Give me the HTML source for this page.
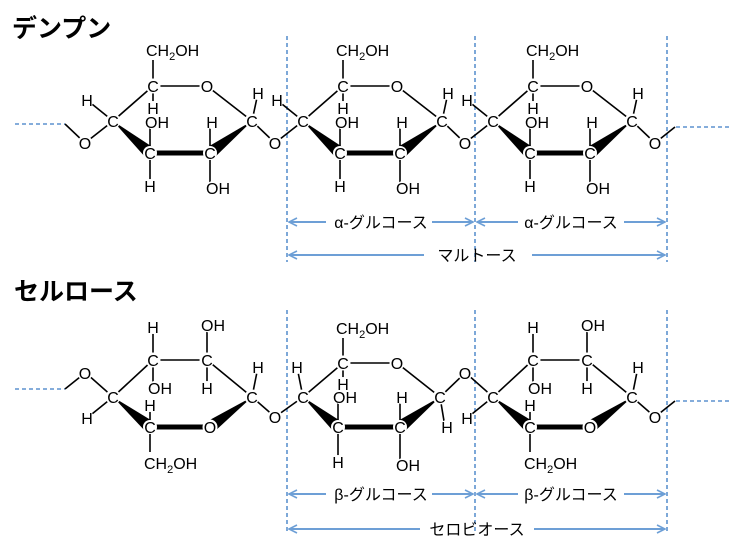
<!DOCTYPE html>
<html><head><meta charset="utf-8"><style>
html,body{margin:0;padding:0;background:#fff;}
svg{display:block;}
.t{font-family:"Liberation Sans",Arial,sans-serif;font-size:16px;fill:#000;text-anchor:middle;}
.s{text-anchor:start;}
.b{stroke:#000;stroke-width:1.6;fill:none;}
.bb{stroke:#000;stroke-width:5;}
.d{stroke:#5d92cf;stroke-width:1.6;stroke-dasharray:4,3;fill:none;}
.a{stroke:#6d9fd6;stroke-width:2;fill:none;}
.w circle,.w ellipse{fill:#fff;}
.jp{font-family:"Liberation Sans","Noto Sans CJK JP",sans-serif;fill:#000;}
</style></head><body>
<svg width="732" height="558" viewBox="0 0 732 558" xmlns="http://www.w3.org/2000/svg">
<defs>
<marker id="ar" markerWidth="10" markerHeight="10" refX="9" refY="5" orient="auto-start-reverse" markerUnits="userSpaceOnUse">
<path d="M1,1 L9,5 L1,9" fill="none" stroke="#6d9fd6" stroke-width="1.6"/>
</marker>
</defs>

<text x="12" y="37" class="jp" font-size="25" font-weight="bold">デンプン</text>
<text x="14" y="300" class="jp" font-size="25" font-weight="bold">セルロース</text>

<line class="d" x1="287" y1="36" x2="287" y2="262"/>
<line class="d" x1="475" y1="36" x2="475" y2="262"/>
<line class="d" x1="667" y1="36" x2="667" y2="262"/>
<line class="d" x1="287" y1="310" x2="287" y2="534"/>
<line class="d" x1="475" y1="310" x2="475" y2="534"/>
<line class="d" x1="667" y1="310" x2="667" y2="534"/>

<line class="d" x1="15" y1="124" x2="65" y2="124"/>
<line class="b" x1="65" y1="124" x2="85" y2="143"/>
<line class="b" x1="655" y1="143" x2="675" y2="127"/>
<line class="d" x1="676" y1="127" x2="732" y2="127"/>
<line class="d" x1="15" y1="389" x2="65" y2="389"/>
<line class="b" x1="65" y1="389" x2="85" y2="373"/>
<line class="b" x1="655" y1="417" x2="675" y2="401"/>
<line class="d" x1="676" y1="401" x2="732" y2="401"/>

<!-- starch units -->
<g>
<line class="b" x1="153" y1="86" x2="207" y2="86"/>
<line class="b" x1="207" y1="86" x2="252" y2="121"/>
<line class="b" x1="113" y1="121" x2="153" y2="86"/>
<line class="b" x1="153" y1="86" x2="153" y2="60"/>
<line class="b" x1="153" y1="86" x2="153" y2="107"/>
<line class="b" x1="113" y1="121" x2="87" y2="100"/>
<line class="b" x1="113" y1="121" x2="85" y2="143"/>
<line class="b" x1="150" y1="153" x2="150" y2="122"/>
<line class="b" x1="150" y1="153" x2="150" y2="186"/>
<line class="b" x1="210" y1="153" x2="210" y2="122"/>
<line class="b" x1="210" y1="153" x2="210" y2="188"/>
<line class="b" x1="252" y1="121" x2="258" y2="93"/>
<line class="b" x1="252" y1="121" x2="275" y2="143"/>
<line class="bb" x1="150" y1="153" x2="210" y2="153"/>
<polygon points="113,121 146,158 154,148"/>
<polygon points="252,121 206,148 214,158"/>
</g>
<g transform="translate(190,0)">
<line class="b" x1="153" y1="86" x2="207" y2="86"/>
<line class="b" x1="207" y1="86" x2="252" y2="121"/>
<line class="b" x1="113" y1="121" x2="153" y2="86"/>
<line class="b" x1="153" y1="86" x2="153" y2="60"/>
<line class="b" x1="153" y1="86" x2="153" y2="107"/>
<line class="b" x1="113" y1="121" x2="87" y2="100"/>
<line class="b" x1="113" y1="121" x2="85" y2="143"/>
<line class="b" x1="150" y1="153" x2="150" y2="122"/>
<line class="b" x1="150" y1="153" x2="150" y2="186"/>
<line class="b" x1="210" y1="153" x2="210" y2="122"/>
<line class="b" x1="210" y1="153" x2="210" y2="188"/>
<line class="b" x1="252" y1="121" x2="258" y2="93"/>
<line class="b" x1="252" y1="121" x2="275" y2="143"/>
<line class="bb" x1="150" y1="153" x2="210" y2="153"/>
<polygon points="113,121 146,158 154,148"/>
<polygon points="252,121 206,148 214,158"/>
</g>
<g transform="translate(380,0)">
<line class="b" x1="153" y1="86" x2="207" y2="86"/>
<line class="b" x1="207" y1="86" x2="252" y2="121"/>
<line class="b" x1="113" y1="121" x2="153" y2="86"/>
<line class="b" x1="153" y1="86" x2="153" y2="60"/>
<line class="b" x1="153" y1="86" x2="153" y2="107"/>
<line class="b" x1="113" y1="121" x2="87" y2="100"/>
<line class="b" x1="113" y1="121" x2="85" y2="143"/>
<line class="b" x1="150" y1="153" x2="150" y2="122"/>
<line class="b" x1="150" y1="153" x2="150" y2="186"/>
<line class="b" x1="210" y1="153" x2="210" y2="122"/>
<line class="b" x1="210" y1="153" x2="210" y2="188"/>
<line class="b" x1="252" y1="121" x2="258" y2="93"/>
<line class="b" x1="252" y1="121" x2="275" y2="143"/>
<line class="bb" x1="150" y1="153" x2="210" y2="153"/>
<polygon points="113,121 146,158 154,148"/>
<polygon points="252,121 206,148 214,158"/>
</g>
<!-- starch white backs -->
<g class="w">
<circle cx="85" cy="143" r="7.5"/>
<g id="swb">
<circle cx="153" cy="86" r="7.5"/><circle cx="207" cy="86" r="7.5"/><circle cx="252" cy="121" r="7.5"/>
<circle cx="210" cy="153" r="7"/><circle cx="150" cy="153" r="7"/><circle cx="113" cy="121" r="7.5"/>
<circle cx="275" cy="143" r="7.5"/>
<circle cx="153" cy="108" r="7"/><circle cx="87" cy="100" r="7"/><circle cx="150" cy="186" r="7"/>
<circle cx="212" cy="122" r="7"/><circle cx="258" cy="93" r="7"/>
<ellipse cx="157" cy="122" rx="13" ry="8"/><ellipse cx="218" cy="188" rx="13" ry="8"/>
</g>
<g transform="translate(190,0)">
<circle cx="153" cy="86" r="7.5"/><circle cx="207" cy="86" r="7.5"/><circle cx="252" cy="121" r="7.5"/>
<circle cx="210" cy="153" r="7"/><circle cx="150" cy="153" r="7"/><circle cx="113" cy="121" r="7.5"/>
<circle cx="275" cy="143" r="7.5"/>
<circle cx="153" cy="108" r="7"/><circle cx="87" cy="100" r="7"/><circle cx="150" cy="186" r="7"/>
<circle cx="212" cy="122" r="7"/><circle cx="258" cy="93" r="7"/>
<ellipse cx="157" cy="122" rx="13" ry="8"/><ellipse cx="218" cy="188" rx="13" ry="8"/>
</g>
<g transform="translate(380,0)">
<circle cx="153" cy="86" r="7.5"/><circle cx="207" cy="86" r="7.5"/><circle cx="252" cy="121" r="7.5"/>
<circle cx="210" cy="153" r="7"/><circle cx="150" cy="153" r="7"/><circle cx="113" cy="121" r="7.5"/>
<circle cx="275" cy="143" r="7.5"/>
<circle cx="153" cy="108" r="7"/><circle cx="87" cy="100" r="7"/><circle cx="150" cy="186" r="7"/>
<circle cx="212" cy="122" r="7"/><circle cx="258" cy="93" r="7"/>
<ellipse cx="157" cy="122" rx="13" ry="8"/><ellipse cx="218" cy="188" rx="13" ry="8"/>
</g>
</g>
<!-- starch text -->
<text class="t" x="85" y="149">O</text>
<g>
<text class="t s" x="146" y="56">CH<tspan font-size="11" dy="4">2</tspan><tspan dy="-4">OH</tspan></text>
<text class="t" x="153" y="92">C</text><text class="t" x="207" y="92">O</text><text class="t" x="252" y="127">C</text>
<text class="t" x="210" y="159">C</text><text class="t" x="150" y="159">C</text><text class="t" x="113" y="127">C</text>
<text class="t" x="153" y="114">H</text><text class="t" x="87" y="106">H</text><text class="t" x="157" y="128">OH</text>
<text class="t" x="150" y="192">H</text><text class="t" x="212" y="128">H</text><text class="t" x="218" y="194">OH</text>
<text class="t" x="258" y="99">H</text><text class="t" x="275" y="149">O</text>
</g>
<g transform="translate(190,0)">
<text class="t s" x="146" y="56">CH<tspan font-size="11" dy="4">2</tspan><tspan dy="-4">OH</tspan></text>
<text class="t" x="153" y="92">C</text><text class="t" x="207" y="92">O</text><text class="t" x="252" y="127">C</text>
<text class="t" x="210" y="159">C</text><text class="t" x="150" y="159">C</text><text class="t" x="113" y="127">C</text>
<text class="t" x="153" y="114">H</text><text class="t" x="87" y="106">H</text><text class="t" x="157" y="128">OH</text>
<text class="t" x="150" y="192">H</text><text class="t" x="212" y="128">H</text><text class="t" x="218" y="194">OH</text>
<text class="t" x="258" y="99">H</text><text class="t" x="275" y="149">O</text>
</g>
<g transform="translate(380,0)">
<text class="t s" x="146" y="56">CH<tspan font-size="11" dy="4">2</tspan><tspan dy="-4">OH</tspan></text>
<text class="t" x="153" y="92">C</text><text class="t" x="207" y="92">O</text><text class="t" x="252" y="127">C</text>
<text class="t" x="210" y="159">C</text><text class="t" x="150" y="159">C</text><text class="t" x="113" y="127">C</text>
<text class="t" x="153" y="114">H</text><text class="t" x="87" y="106">H</text><text class="t" x="157" y="128">OH</text>
<text class="t" x="150" y="192">H</text><text class="t" x="212" y="128">H</text><text class="t" x="218" y="194">OH</text>
<text class="t" x="258" y="99">H</text><text class="t" x="275" y="149">O</text>
</g>

<!-- cellulose unit A lines (x2) -->
<g>
<line class="b" x1="113" y1="397" x2="153" y2="360"/>
<line class="b" x1="153" y1="360" x2="207" y2="360"/>
<line class="b" x1="207" y1="360" x2="252" y2="397"/>
<line class="b" x1="153" y1="360" x2="153" y2="327"/>
<line class="b" x1="153" y1="360" x2="153" y2="388"/>
<line class="b" x1="207" y1="360" x2="207" y2="326"/>
<line class="b" x1="207" y1="360" x2="207" y2="388"/>
<line class="b" x1="150" y1="427" x2="150" y2="405"/>
<line class="b" x1="150" y1="427" x2="150" y2="452"/>
<line class="b" x1="113" y1="397" x2="87" y2="374"/>
<line class="b" x1="113" y1="397" x2="87" y2="418"/>
<line class="b" x1="252" y1="397" x2="258" y2="367"/>
<line class="b" x1="252" y1="397" x2="275" y2="417"/>
<line class="bb" x1="150" y1="427" x2="210" y2="427"/>
<polygon points="113,397 146,432 154,422"/>
<polygon points="252,397 206,422 214,432"/>
</g>
<g transform="translate(380,0)">
<line class="b" x1="113" y1="397" x2="153" y2="360"/>
<line class="b" x1="153" y1="360" x2="207" y2="360"/>
<line class="b" x1="207" y1="360" x2="252" y2="397"/>
<line class="b" x1="153" y1="360" x2="153" y2="327"/>
<line class="b" x1="153" y1="360" x2="153" y2="388"/>
<line class="b" x1="207" y1="360" x2="207" y2="326"/>
<line class="b" x1="207" y1="360" x2="207" y2="388"/>
<line class="b" x1="150" y1="427" x2="150" y2="405"/>
<line class="b" x1="150" y1="427" x2="150" y2="452"/>
<line class="b" x1="113" y1="397" x2="87" y2="374"/>
<line class="b" x1="113" y1="397" x2="87" y2="418"/>
<line class="b" x1="252" y1="397" x2="258" y2="367"/>
<line class="b" x1="252" y1="397" x2="275" y2="417"/>
<line class="bb" x1="150" y1="427" x2="210" y2="427"/>
<polygon points="113,397 146,432 154,422"/>
<polygon points="252,397 206,422 214,432"/>
</g>
<!-- cellulose unit B lines -->
<g>
<line class="b" x1="343" y1="363" x2="397" y2="363"/>
<line class="b" x1="397" y1="363" x2="440" y2="397"/>
<line class="b" x1="303" y1="397" x2="343" y2="363"/>
<line class="b" x1="343" y1="363" x2="343" y2="338"/>
<line class="b" x1="343" y1="363" x2="343" y2="384"/>
<line class="b" x1="303" y1="397" x2="297" y2="367"/>
<line class="b" x1="303" y1="397" x2="275" y2="417"/>
<line class="b" x1="338" y1="427" x2="338" y2="397"/>
<line class="b" x1="338" y1="427" x2="338" y2="462"/>
<line class="b" x1="400" y1="427" x2="400" y2="397"/>
<line class="b" x1="400" y1="427" x2="400" y2="462"/>
<line class="b" x1="440" y1="397" x2="445" y2="427"/>
<line class="b" x1="440" y1="397" x2="465" y2="373"/>
<line class="bb" x1="338" y1="427" x2="400" y2="427"/>
<polygon points="303,397 334,432 342,422"/>
<polygon points="440,397 396,422 404,432"/>
</g>
<!-- cellulose white backs -->
<g class="w">
<circle cx="85" cy="373" r="7.5"/>
<g>
<circle cx="113" cy="397" r="7.5"/><circle cx="153" cy="360" r="7.5"/><circle cx="207" cy="360" r="7.5"/>
<circle cx="252" cy="397" r="7.5"/><circle cx="150" cy="427" r="7"/><circle cx="210" cy="427" r="7.5"/>
<circle cx="275" cy="417" r="7.5"/>
<circle cx="153" cy="327" r="7"/><circle cx="207" cy="388" r="7"/><circle cx="150" cy="405" r="7"/>
<circle cx="87" cy="418" r="7"/><circle cx="258" cy="367" r="7"/>
<ellipse cx="213" cy="325" rx="13" ry="8"/><ellipse cx="160" cy="388" rx="13" ry="8"/>
</g>
<g transform="translate(380,0)">
<circle cx="113" cy="397" r="7.5"/><circle cx="153" cy="360" r="7.5"/><circle cx="207" cy="360" r="7.5"/>
<circle cx="252" cy="397" r="7.5"/><circle cx="150" cy="427" r="7"/><circle cx="210" cy="427" r="7.5"/>
<circle cx="275" cy="417" r="7.5"/>
<circle cx="153" cy="327" r="7"/><circle cx="207" cy="388" r="7"/><circle cx="150" cy="405" r="7"/>
<circle cx="87" cy="418" r="7"/><circle cx="258" cy="367" r="7"/>
<ellipse cx="213" cy="325" rx="13" ry="8"/><ellipse cx="160" cy="388" rx="13" ry="8"/>
</g>
<circle cx="343" cy="363" r="7.5"/><circle cx="397" cy="363" r="7.5"/><circle cx="440" cy="397" r="7.5"/>
<circle cx="400" cy="427" r="7"/><circle cx="338" cy="427" r="7"/><circle cx="303" cy="397" r="7.5"/>
<circle cx="465" cy="373" r="7.5"/>
<circle cx="343" cy="384" r="7"/><circle cx="297" cy="367" r="7"/><circle cx="338" cy="462" r="7"/>
<circle cx="402" cy="397" r="7"/><circle cx="447" cy="427" r="7"/>
<ellipse cx="345" cy="397" rx="13" ry="8"/><ellipse cx="408" cy="465" rx="13" ry="8"/>
</g>
<!-- cellulose text -->
<text class="t" x="85" y="379">O</text>
<g>
<text class="t" x="153" y="333">H</text><text class="t" x="213" y="331">OH</text>
<text class="t" x="153" y="366">C</text><text class="t" x="207" y="366">C</text>
<text class="t" x="160" y="394">OH</text><text class="t" x="207" y="394">H</text>
<text class="t" x="113" y="403">C</text><text class="t" x="252" y="403">C</text>
<text class="t" x="258" y="373">H</text><text class="t" x="87" y="424">H</text>
<text class="t" x="150" y="411">H</text><text class="t" x="150" y="433">C</text>
<text class="t" x="210" y="433">O</text><text class="t" x="275" y="423">O</text>
<text class="t s" x="144" y="469">CH<tspan font-size="11" dy="4">2</tspan><tspan dy="-4">OH</tspan></text>
</g>
<g transform="translate(380,0)">
<text class="t" x="153" y="333">H</text><text class="t" x="213" y="331">OH</text>
<text class="t" x="153" y="366">C</text><text class="t" x="207" y="366">C</text>
<text class="t" x="160" y="394">OH</text><text class="t" x="207" y="394">H</text>
<text class="t" x="113" y="403">C</text><text class="t" x="252" y="403">C</text>
<text class="t" x="258" y="373">H</text><text class="t" x="87" y="424">H</text>
<text class="t" x="150" y="411">H</text><text class="t" x="150" y="433">C</text>
<text class="t" x="210" y="433">O</text><text class="t" x="275" y="423">O</text>
<text class="t s" x="144" y="469">CH<tspan font-size="11" dy="4">2</tspan><tspan dy="-4">OH</tspan></text>
</g>
<g>
<text class="t s" x="336" y="334">CH<tspan font-size="11" dy="4">2</tspan><tspan dy="-4">OH</tspan></text>
<text class="t" x="343" y="369">C</text><text class="t" x="397" y="369">O</text>
<text class="t" x="440" y="403">C</text><text class="t" x="400" y="433">C</text>
<text class="t" x="338" y="433">C</text><text class="t" x="303" y="403">C</text>
<text class="t" x="343" y="390">H</text><text class="t" x="297" y="373">H</text>
<text class="t" x="345" y="403">OH</text><text class="t" x="338" y="468">H</text>
<text class="t" x="402" y="403">H</text><text class="t" x="408" y="471">OH</text>
<text class="t" x="447" y="433">H</text><text class="t" x="465" y="379">O</text>
</g>

<line class="a" x1="289" y1="222" x2="326" y2="222" marker-start="url(#ar)"/>
<line class="a" x1="432" y1="222" x2="473" y2="222" marker-end="url(#ar)"/>
<text x="381" y="228" class="jp" font-size="16" text-anchor="middle">α-グルコース</text>
<line class="a" x1="477" y1="222" x2="518" y2="222" marker-start="url(#ar)"/>
<line class="a" x1="624" y1="222" x2="665" y2="222" marker-end="url(#ar)"/>
<text x="571" y="228" class="jp" font-size="16" text-anchor="middle">α-グルコース</text>
<line class="a" x1="289" y1="255" x2="424" y2="255" marker-start="url(#ar)"/>
<line class="a" x1="532" y1="255" x2="665" y2="255" marker-end="url(#ar)"/>
<text x="477" y="261" class="jp" font-size="16" text-anchor="middle">マルトース</text>

<line class="a" x1="289" y1="494" x2="326" y2="494" marker-start="url(#ar)"/>
<line class="a" x1="432" y1="494" x2="473" y2="494" marker-end="url(#ar)"/>
<text x="381" y="500" class="jp" font-size="16" text-anchor="middle">β-グルコース</text>
<line class="a" x1="477" y1="494" x2="518" y2="494" marker-start="url(#ar)"/>
<line class="a" x1="624" y1="494" x2="665" y2="494" marker-end="url(#ar)"/>
<text x="571" y="500" class="jp" font-size="16" text-anchor="middle">β-グルコース</text>
<line class="a" x1="289" y1="529" x2="420" y2="529" marker-start="url(#ar)"/>
<line class="a" x1="534" y1="529" x2="665" y2="529" marker-end="url(#ar)"/>
<text x="477" y="535" class="jp" font-size="16" text-anchor="middle">セロビオース</text>
</svg>
</body></html>
